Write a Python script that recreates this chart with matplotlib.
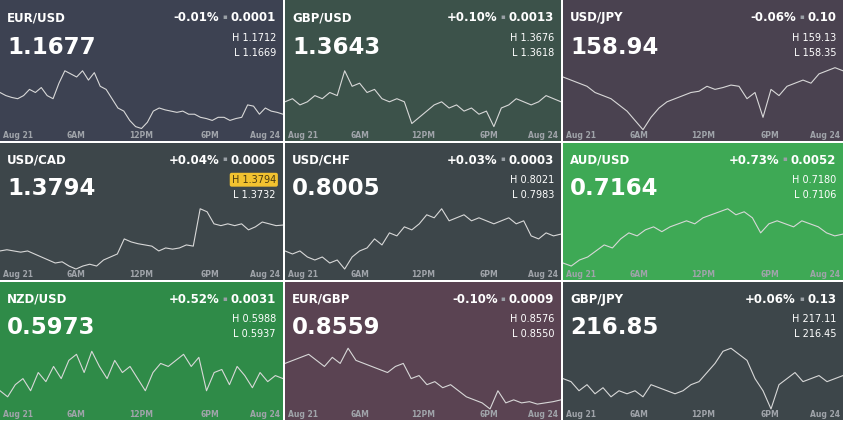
import numpy as np
import matplotlib.pyplot as plt

pairs = ['EUR/USD', 'GBP/USD', 'USD/JPY', 'USD/CAD', 'USD/CHF', 'AUD/USD', 'NZD/USD', 'EUR/GBP', 'GBP/JPY']
prices = ['1.1677', '1.3643', '158.94', '1.3794', '0.8005', '0.7164', '0.5973', '0.8559', '216.85']
changes = ['-0.01%', '+0.10%', '-0.06%', '+0.04%', '+0.03%', '+0.73%', '+0.52%', '-0.10%', '+0.06%']
deltas = ['0.0001', '0.0013', '0.10', '0.0005', '0.0003', '0.0052', '0.0031', '0.0009', '0.13']
highs = ['1.1712', '1.3676', '159.13', '1.3794', '0.8021', '0.7180', '0.5988', '0.8576', '217.11']
lows = ['1.1669', '1.3618', '158.35', '1.3732', '0.7983', '0.7106', '0.5937', '0.8550', '216.45']
bg_colors = ['#3d4252', '#3c524a', '#4a4250', '#3d464a', '#3d464a', '#3ea955', '#2f8b48', '#5a4352', '#3d464a']
x_labels = ['Aug 21', '6AM', '12PM', '6PM', 'Aug 24']

# intraday path, scaled 0 (day low) .. 1 (day high)
paths = [
    [0.6, 0.55, 0.52, 0.5, 0.55, 0.65, 0.6, 0.68, 0.55, 0.5, 0.75, 0.95, 0.9, 0.85, 0.95, 0.8, 0.92, 0.7, 0.65, 0.5,
     0.35, 0.3, 0.15, 0.05, 0.02, 0.12, 0.3, 0.35, 0.32, 0.3, 0.28, 0.3, 0.25, 0.25, 0.2, 0.18, 0.15, 0.2, 0.2, 0.15,
     0.18, 0.2, 0.4, 0.38, 0.25, 0.35, 0.3, 0.28, 0.25],
    [0.45, 0.5, 0.4, 0.45, 0.55, 0.5, 0.6, 0.55, 0.95, 0.7, 0.75, 0.6, 0.65, 0.5, 0.45, 0.5, 0.45, 0.1, 0.2, 0.3,
     0.4, 0.45, 0.35, 0.4, 0.3, 0.35, 0.25, 0.3, 0.05, 0.35, 0.4, 0.5, 0.45, 0.4, 0.45, 0.55, 0.5, 0.45],
    [0.85, 0.8, 0.75, 0.7, 0.6, 0.55, 0.5, 0.4, 0.3, 0.15, 0.0, 0.2, 0.35, 0.45, 0.5, 0.55, 0.6, 0.62, 0.7, 0.65,
     0.68, 0.72, 0.7, 0.5, 0.6, 0.2, 0.65, 0.55, 0.7, 0.75, 0.8, 0.75, 0.9, 0.95, 1.0, 0.95],
    [0.3, 0.32, 0.3, 0.28, 0.3, 0.25, 0.2, 0.15, 0.1, 0.12, 0.05, 0.0, 0.05, 0.08, 0.05, 0.15, 0.2, 0.25, 0.5, 0.45,
     0.42, 0.4, 0.38, 0.3, 0.35, 0.33, 0.35, 0.4, 0.38, 1.0, 0.95, 0.75, 0.72, 0.75, 0.72, 0.75, 0.65, 0.7, 0.78,
     0.75, 0.72, 0.73],
    [0.3, 0.25, 0.3, 0.2, 0.15, 0.2, 0.1, 0.15, 0.0, 0.2, 0.3, 0.35, 0.5, 0.4, 0.6, 0.55, 0.7, 0.65, 0.75, 0.9,
     0.85, 1.0, 0.8, 0.85, 0.9, 0.8, 0.85, 0.8, 0.75, 0.8, 0.85, 0.75, 0.8, 0.55, 0.5, 0.6, 0.55, 0.58],
    [0.1, 0.05, 0.15, 0.2, 0.3, 0.4, 0.35, 0.5, 0.6, 0.55, 0.65, 0.7, 0.62, 0.7, 0.75, 0.8, 0.75, 0.85, 0.9, 0.95,
     1.0, 0.9, 0.95, 0.85, 0.6, 0.75, 0.8, 0.75, 0.7, 0.8, 0.75, 0.7, 0.6, 0.55, 0.58],
    [0.3, 0.2, 0.4, 0.5, 0.3, 0.6, 0.45, 0.7, 0.5, 0.8, 0.9, 0.6, 0.95, 0.7, 0.5, 0.8, 0.6, 0.7, 0.5, 0.3,
     0.6, 0.75, 0.7, 0.8, 0.9, 0.7, 0.85, 0.3, 0.6, 0.65, 0.4, 0.7, 0.55, 0.35, 0.6, 0.45, 0.55, 0.5],
    [0.75, 0.8, 0.85, 0.9, 0.8, 0.7, 0.85, 0.75, 1.0, 0.8, 0.75, 0.7, 0.65, 0.6, 0.7, 0.75, 0.5, 0.55, 0.4, 0.45,
     0.35, 0.4, 0.3, 0.2, 0.15, 0.1, 0.0, 0.3, 0.1, 0.15, 0.1, 0.12, 0.08, 0.1, 0.12, 0.15],
    [0.5, 0.45, 0.3, 0.4, 0.25, 0.35, 0.2, 0.3, 0.25, 0.3, 0.2, 0.4, 0.35, 0.3, 0.25, 0.3, 0.4, 0.45, 0.6, 0.75,
     0.95, 1.0, 0.9, 0.8, 0.5, 0.3, 0.0, 0.4, 0.5, 0.6, 0.45, 0.5, 0.55, 0.45, 0.5, 0.55],
]

W, H = 843, 422
col_x = [0, 285, 563]
col_w = [283, 276, 280]
row_y = [0, 143, 282]
row_h = [141, 137, 138]

fig = plt.figure(figsize=(W / 100, H / 100), dpi=100)
fig.patch.set_facecolor('white')
renderer = fig.canvas.get_renderer()

for i in range(9):
    r, c = divmod(i, 3)
    ax = fig.add_axes([col_x[c] / W, 1 - (row_y[r] + row_h[r]) / H, col_w[c] / W, row_h[r] / H])
    ax.set_facecolor(bg_colors[i])
    for s in ax.spines.values():
        s.set_visible(False)
    ax.set_xticks([])
    ax.set_yticks([])
    lo, hi = float(lows[i]), float(highs[i])
    y = lo + np.array(paths[i]) * (hi - lo)
    x = np.linspace(0, 1, len(y))
    ax.plot(x, y, color='#d8d8d8', lw=0.8)
    # line sits in lower half of panel
    span = (hi - lo) / 0.44
    ax.set_ylim(lo - 0.08 * span, lo - 0.08 * span + span)
    ax.set_xlim(0, 1)

    t = ax.transAxes
    ax.text(0.025, 0.85, pairs[i], transform=t, color='white', fontsize=8.5, fontweight='bold')
    ax.text(0.025, 0.62, prices[i], transform=t, color='white', fontsize=16.5, fontweight='bold')
    # change, separator dot, delta
    d = ax.text(0.975, 0.85, deltas[i], transform=t, color='white', fontsize=8.5, fontweight='bold', ha='right')
    dw = d.get_window_extent(renderer).width / (col_w[c])
    ax.text(0.975 - dw - 0.012, 0.865, '\u25aa', transform=t, color='#9aa0a6', fontsize=5, ha='right')
    ax.text(0.975 - dw - 0.04, 0.85, changes[i], transform=t, color='white', fontsize=8.5,
            fontweight='bold', ha='right')
    hkw = dict(transform=t, color='white', fontsize=7, ha='right')
    if i == 3:
        hkw.update(color='#4a3a10', bbox=dict(boxstyle='round,pad=0.2', fc='#f2c230', ec='none'))
    ax.text(0.975, 0.71, 'H ' + highs[i], **hkw)
    ax.text(0.975, 0.60, 'L ' + lows[i], transform=t, color='white', fontsize=7, ha='right')
    for k, lab in enumerate(x_labels):
        ha = 'left' if k == 0 else ('right' if k == 4 else 'center')
        xp = [0.01, 0.27, 0.5, 0.74, 0.99][k]
        ax.text(xp, 0.02, lab, transform=t, color='#a0a4aa', fontsize=5.5, fontweight='bold', ha=ha)

fig.savefig('out.png', dpi=100, facecolor='white')
